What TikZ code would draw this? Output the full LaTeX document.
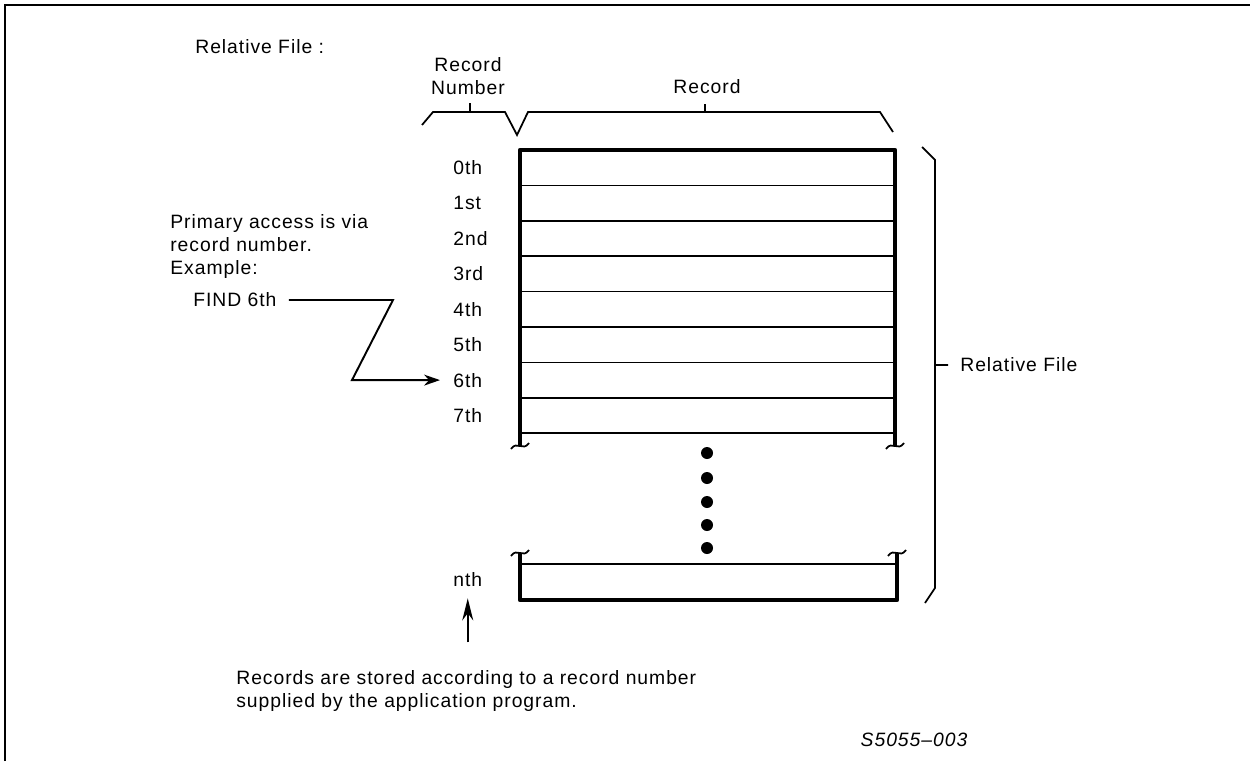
\documentclass[tikz,border=0pt]{standalone}
\usepackage{fontspec}
\setmainfont{Liberation Sans}[LetterSpace=5]
\usetikzlibrary{arrows.meta,positioning}
\tikzset{
 every node/.style={font=\fontsize{11}{13}\selectfont,inner sep=0pt},
 frame/.style={line width=1.2pt},
 rim/.style={line width=2.6pt,line join=round},
 rule/.style={line width=.9pt},
 brace/.style={line width=1pt},
 nlbl/.style={anchor=west},
 note/.style={align=left,anchor=north west},
 ptr/.style={-{Stealth[length=3.2mm,width=2.2mm]},line width=1.1pt},
}
\newcommand{\tear}[2]{\draw[brace](#1-9,#2+3) .. controls (#1-3,#2-6) and (#1+3,#2+6) .. (#1+9,#2-3);}

\begin{document}
\begin{tikzpicture}[x=.02cm,y=-.02cm]
 \useasboundingbox (0,0) rectangle (1250,761);
 \draw[frame] (5,761) -- (5,5) -- (1250,5);
 % headings
 \node[anchor=west] (title) at (195,47) {Relative File :};
 \node[align=center] (numhd) at (468,76) {Record\\Number};
 \node (rechd) at (707,87) {Record};
 \draw[brace] (422,125) -- (433,112) -- (505,112) -- (517,135) -- (528,112) -- (880,112) -- (893,132);
 \draw[brace] (470,112) -- (470,103) (705,112) -- (705,104);
 % records
 \draw[rim] (520,446) -- (520,150) -- (895,150) -- (895,446);
 \foreach \i in {1,...,8} \draw[rule] (520,150+35.4*\i) -- (895,150+35.4*\i);
 \foreach \lbl [count=\i from 0] in {0th,1st,2nd,3rd,4th,5th,6th,7th}
  \node[nlbl] (r\i) at (453,167.7+35.4*\i) {\lbl};
 \tear{520}{446}\tear{895}{446}
 \foreach \y in {453,478,502,525,548} \fill (707,\y) circle (1.2mm);
 \tear{520}{553}\tear{897}{553}
 \draw[rim] (520,553) -- (520,600) -- (897,600) -- (897,553);
 \draw[rule] (520,564) -- (897,564);
 \node[nlbl] (rn) at (453,580) {nth};
 % right brace
 \draw[brace] (922,147) -- (935,160) -- (935,588) -- (925,603) (935,365) -- (948,365);
 \node[anchor=west] (whole) at (960,365) {Relative File};
 % notes
 \node[note] (access) at (170,214) {Primary access is via\\record number.\\Example:};
 \node[anchor=west] (find) at (193,300) {FIND 6th};
 \draw[ptr] ([xshift=2.4mm]find.east) -- (393,0 |- find.east) -- (352,0 |- r6.west) -- ([xshift=-2.6mm]r6.west);
 \coordinate[below=1.1cm of rn.south] (foot);
 \draw[ptr,-{Stealth[length=4.4mm,width=2.2mm]},shorten >=2.2mm] (foot) -- (rn.south);
 \node[note] (stored) at (236,670) {Records are stored according to a record number\\supplied by the application program.};
 \node[font=\fontsize{11}{13}\selectfont\itshape] (fig) at (914,740) {S5055--003};
\end{tikzpicture}
\end{document}
